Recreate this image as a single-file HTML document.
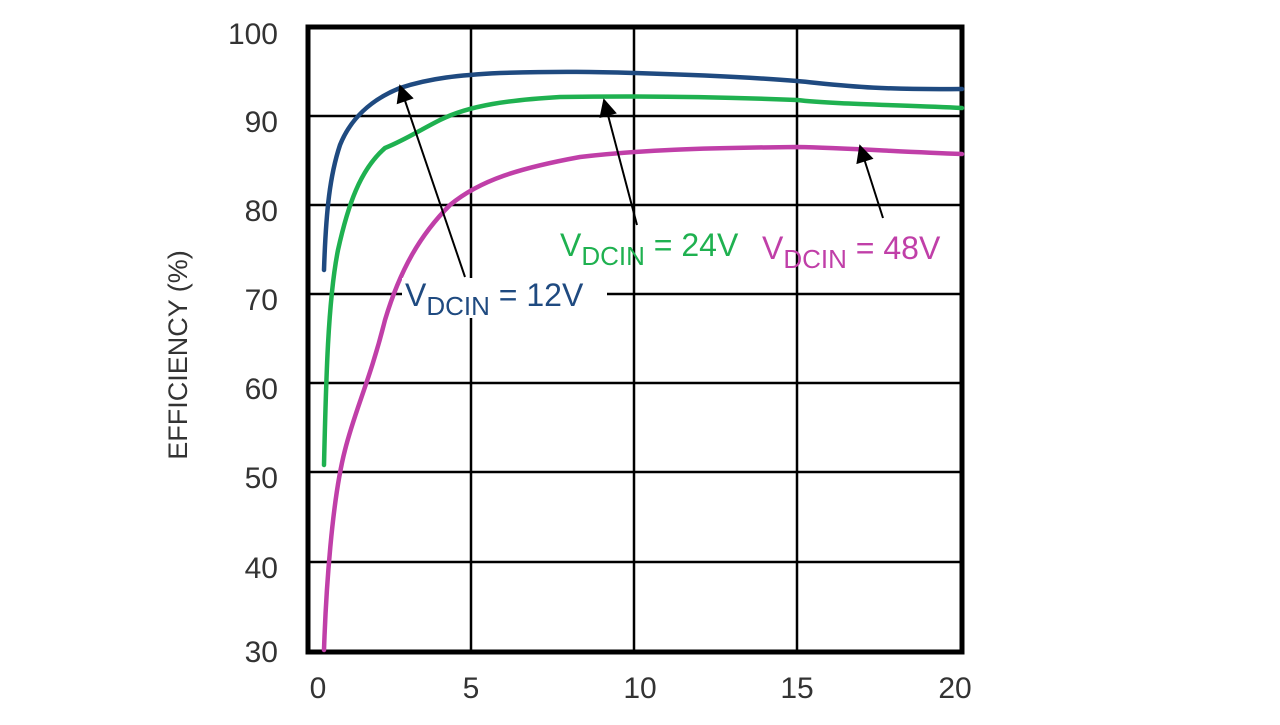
<!DOCTYPE html>
<html><head><meta charset="utf-8"><style>
body{margin:0;background:#fff;}
svg text{font-family:"Liberation Sans",sans-serif;}
</style></head><body>
<svg width="1280" height="720" viewBox="0 0 1280 720" xmlns="http://www.w3.org/2000/svg">
<defs><marker id="ah" viewBox="0 0 10 10" refX="9" refY="5" markerWidth="9" markerHeight="7" orient="auto" markerUnits="userSpaceOnUse"><path d="M0,0 L10,5 L0,10 z" fill="#000"/></marker></defs>
<defs><marker id="ah2" viewBox="0 0 10 10" refX="9" refY="5" markerWidth="26" markerHeight="18" orient="auto" markerUnits="userSpaceOnUse"><path d="M0,0 L10,5 L0,10 z" fill="#000"/></marker></defs>
<g stroke="#000" stroke-width="2.5">
<line x1="471" y1="27" x2="471" y2="652"/><line x1="634" y1="27" x2="634" y2="652"/><line x1="797" y1="27" x2="797" y2="652"/>
<line x1="308" y1="116" x2="962" y2="116"/><line x1="308" y1="205" x2="962" y2="205"/><line x1="308" y1="294" x2="962" y2="294"/>
<line x1="308" y1="383" x2="962" y2="383"/><line x1="308" y1="472" x2="962" y2="472"/><line x1="308" y1="562" x2="962" y2="562"/>
</g>
<rect x="308" y="27" width="654" height="625" fill="none" stroke="#000" stroke-width="5"/>
<g fill="none" stroke-width="4.5" stroke-linecap="round" stroke-linejoin="round">
<path stroke="#1f4a80" d="M324,270 C326,210 330,175 340,145 C350,120 370,100 400,88 C430,78 460,75 500,73 C560,71 600,72 634,73 C700,75 760,78 797,81 C840,85 870,90 962,89"/>
<path stroke="#1fb150" d="M324,465 C326,380 328,300 338,250 C348,205 360,170 385,148 C405,140 420,130 440,120 C470,105 510,100 560,97 C620,96 700,96 797,100 C830,104 900,105 962,108"/>
<path stroke="#c03fa8" d="M324,650 C326,590 332,500 345,450 C355,410 370,380 385,320 C400,270 420,235 450,205 C480,180 520,168 580,157 C640,150 700,148 797,147 C850,148 900,152 962,154"/>
</g>
<g stroke="#000" stroke-width="2" marker-end="url(#ah2)">
<line x1="465" y1="277" x2="400" y2="86"/>
<line x1="637" y1="225" x2="604" y2="100"/>
<line x1="883" y1="218" x2="860" y2="146"/>
</g>
<rect x="402" y="278" width="205" height="40" fill="#fff"/>
<g font-size="32">
<text x="405" y="306" fill="#1f4a80">V<tspan font-size="26" dy="9">DCIN</tspan><tspan dy="-9"> = 12V</tspan></text>
<text x="560" y="256" fill="#1fb150">V<tspan font-size="26" dy="9">DCIN</tspan><tspan dy="-9"> = 24V</tspan></text>
<text x="762" y="259" fill="#c03fa8">V<tspan font-size="26" dy="9">DCIN</tspan><tspan dy="-9"> = 48V</tspan></text>
</g>
<g font-size="30" fill="#333" text-anchor="end">
<text x="278" y="44">100</text><text x="278" y="132">90</text><text x="278" y="221">80</text><text x="278" y="310">70</text>
<text x="278" y="399">60</text><text x="278" y="488">50</text><text x="278" y="578">40</text><text x="278" y="662">30</text>
</g>
<g font-size="30" fill="#333" text-anchor="middle">
<text x="318" y="698">0</text><text x="471" y="698">5</text><text x="640" y="698">10</text><text x="797" y="698">15</text><text x="955" y="698">20</text>
</g>
<text transform="translate(187,355) rotate(-90)" font-size="27" fill="#333" text-anchor="middle">EFFICIENCY (%)</text>
</svg>
</body></html>
